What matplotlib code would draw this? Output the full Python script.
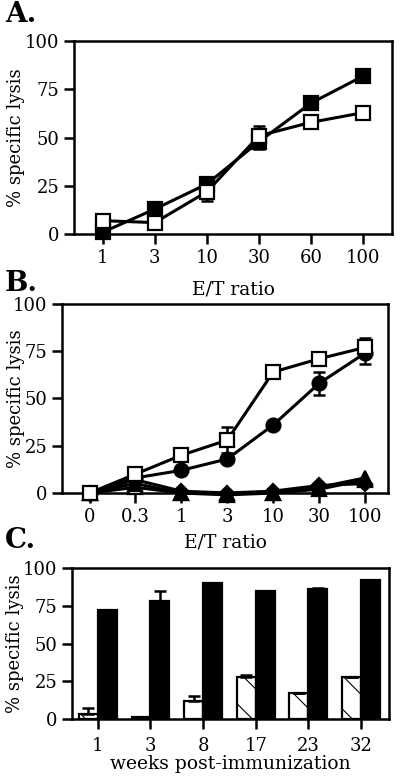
import matplotlib
matplotlib.use('Agg')
import matplotlib.pyplot as plt
import numpy as np

plt.rcParams['font.family'] = ['DejaVu Serif']
plt.rcParams['hatch.linewidth'] = 0.8

# panel A
a_labels = ['1', '3', '10', '30', '60', '100']
a_filled = [1, 13, 26, 48, 68, 82]
a_filled_err = [0, 0, 0, 4, 0, 0]
a_open = [7, 6, 22, 51, 58, 63]
a_open_err = [0, 0, 5, 5, 0, 0]

# panel B
b_labels = ['0', '0.3', '1', '3', '10', '30', '100']
b_open = [0, 10, 20, 28, 64, 71, 77]
b_open_err = [0, 0, 0, 7, 0, 0, 5]
b_circle = [0, 8, 12, 18, 36, 58, 74]
b_circle_err = [0, 0, 0, 0, 0, 6, 6]
b_tri_filled = [0, 5, 0, -1, 0, 3, 8]
b_tri_open = [0, 3, 0, 0, 0, 2, 7]
b_diamond = [0, 7, 1, 0, 1, 4, 5]

# panel C
c_labels = ['1', '3', '8', '17', '23', '32']
c_white = [3, 1.5, 12, 28, 17, 28]
c_white_err = [4, 0, 3, 1, 0, 0]
c_black = [72, 78, 90, 85, 86, 92]
c_black_err = [0, 7, 0, 0, 1, 0]

fig = plt.figure(figsize=(4, 7.78), dpi=100)
fs = 13


def style_axes(ax, label_x):
    for s in ax.spines.values():
        s.set_linewidth(1.8)
    ax.tick_params(width=1.8, length=7, labelsize=fs, direction='out')
    ax.set_ylim(0, 100)
    ax.set_yticks([0, 25, 50, 75, 100])
    ax.set_ylabel('% specific lysis', fontsize=fs)
    ax.yaxis.set_label_coords(label_x, 0.5)


line_kw = dict(color='black', linewidth=2.2, markersize=10, clip_on=False,
               markeredgewidth=1.6, markeredgecolor='black', zorder=3)
err_kw = dict(fmt='none', ecolor='black', elinewidth=1.8, capsize=4, capthick=1.8, clip_on=False, zorder=2)

# A
axA = fig.add_axes([0.185, 0.699, 0.795, 0.248])
xa = np.arange(len(a_labels))
axA.errorbar(xa, a_filled, yerr=a_filled_err, **err_kw)
axA.errorbar(xa, a_open, yerr=a_open_err, **err_kw)
axA.plot(xa, a_filled, marker='s', markerfacecolor='black', **line_kw)
axA.plot(xa, a_open, marker='s', markerfacecolor='white', **line_kw)
axA.set_xlim(-0.55, 5.55)
axA.set_xticks(xa)
axA.set_xticklabels(a_labels)
axA.set_xlabel('E/T ratio', fontsize=13.5, labelpad=10)
style_axes(axA, -0.154)
fig.text(0.012, 0.982, 'A.', fontsize=20, fontweight='bold', va='center')

# B
axB = fig.add_axes([0.155, 0.3663, 0.815, 0.243])
xb = np.arange(len(b_labels))
axB.errorbar(xb, b_open, yerr=b_open_err, **err_kw)
axB.errorbar(xb, b_circle, yerr=b_circle_err, **err_kw)
axB.plot(xb, b_tri_open, marker='^', markerfacecolor='white', **line_kw)
axB.plot(xb, b_tri_filled, marker='^', markerfacecolor='black', **line_kw)
axB.plot(xb, b_diamond, marker='D', markerfacecolor='black', **dict(line_kw, markersize=7))
axB.plot(xb, b_circle, marker='o', markerfacecolor='black', **line_kw)
axB.plot(xb, b_open, marker='s', markerfacecolor='white', **line_kw)
axB.set_xlim(-0.6, 6.5)
axB.set_xticks(xb)
axB.set_xticklabels(b_labels)
axB.set_xlabel('E/T ratio', fontsize=13.5, labelpad=6)
style_axes(axB, -0.113)
fig.text(0.012, 0.635, 'B.', fontsize=20, fontweight='bold', va='center')

# C
axC = fig.add_axes([0.18, 0.0758, 0.7925, 0.194])
xc = np.arange(len(c_labels))
w = 0.36
axC.bar(xc - w / 2, c_white, width=w, color='white', edgecolor='black', linewidth=1.6,
        hatch='\\', zorder=2)
axC.bar(xc + w / 2, c_black, width=w, color='black', edgecolor='black', linewidth=1.6, zorder=2)
ew = [0] * len(c_labels)
axC.errorbar(xc - w / 2, c_white, yerr=[ew, c_white_err], **err_kw)
axC.errorbar(xc + w / 2, c_black, yerr=[ew, c_black_err], **err_kw)
axC.set_xlim(-0.49, 5.53)
axC.set_xticks(xc)
axC.set_xticklabels(c_labels)
axC.tick_params(axis='x', pad=6)
axC.set_xlabel('weeks post-immunization', fontsize=13.5, labelpad=0)
style_axes(axC, -0.151)
fig.text(0.012, 0.305, 'C.', fontsize=20, fontweight='bold', va='center')

fig.savefig('out.png', dpi=100)
